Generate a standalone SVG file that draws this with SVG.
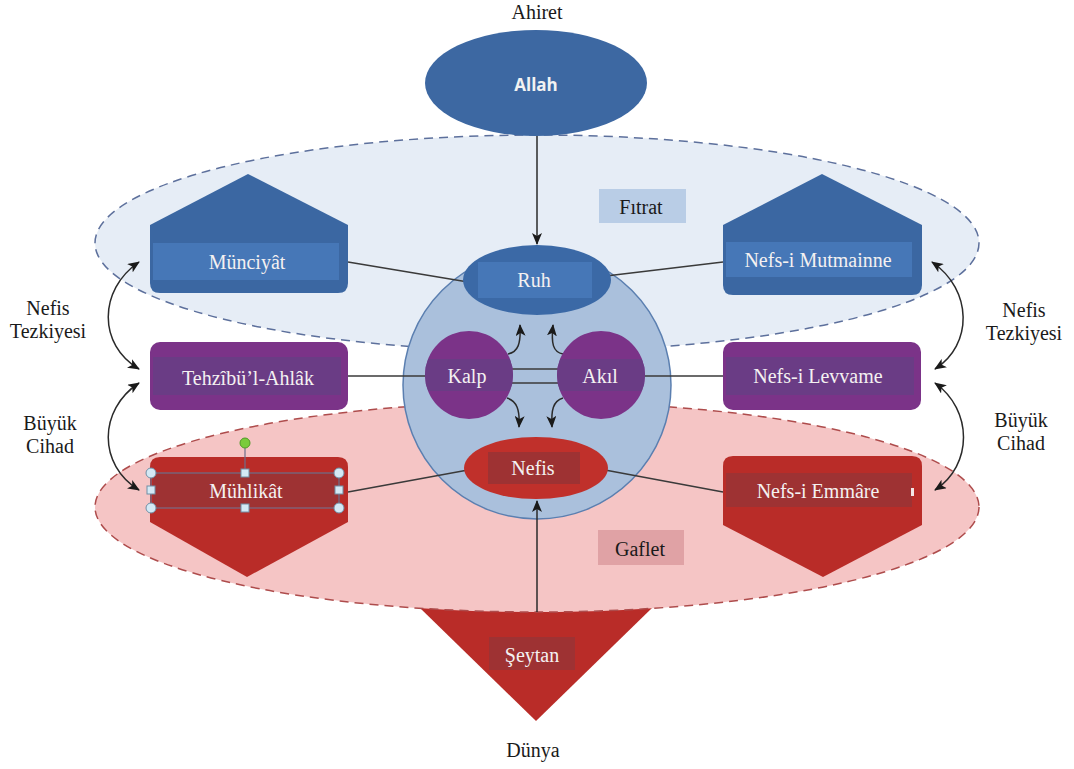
<svg xmlns="http://www.w3.org/2000/svg" width="1074" height="769" viewBox="0 0 1074 769">
<style>
.t{font-family:'Liberation Serif','Times New Roman',serif;font-size:20px;text-anchor:middle;dominant-baseline:central}
.w{fill:#f4f1f1}
.k{fill:#1a1a1a}
.ln{stroke:#3a3a3a;stroke-width:1.5;fill:none}
.ar{stroke:#2a2a2a;stroke-width:1.5;fill:none;marker-end:url(#ah)}
.dar{stroke:#2a2a2a;stroke-width:1.5;fill:none;marker-start:url(#ah);marker-end:url(#ah)}
.blue{fill:#3b67a2}
.blueband{fill:#4677b7}
.purple{fill:#7b3388}
.purpleband{fill:#6a3c85}
.red{fill:#b92c28}
.redband{fill:#9e3233}
.hc{fill:#d4e9f5;stroke:#6f8fa5;stroke-width:1}
</style>
<defs>
<marker id="ah" viewBox="0 0 12 10" refX="11" refY="5" markerWidth="12" markerHeight="10" markerUnits="userSpaceOnUse" orient="auto-start-reverse">
<path d="M0,0 L12,5 L0,10 L3,5 z" fill="#1a1a1a"/>
</marker>
<clipPath id="ck"><circle cx="469" cy="375" r="44"/></clipPath>
<clipPath id="ca"><circle cx="601" cy="375" r="44"/></clipPath>
</defs>
<rect width="1074" height="769" fill="#ffffff"/>

<g id="seytan">
<polygon points="420,608 652,608 536,721" class="red"/>
<rect x="489" y="637" width="86" height="33" class="redband"/>
<text x="532" y="655" class="t w">Şeytan</text>
</g>

<g id="fitrat-zone">
<ellipse cx="537" cy="243" rx="442" ry="108" fill="#e6edf6" stroke="#5d709c" stroke-width="1.5" stroke-dasharray="9,6"/>
<rect x="599" y="189" width="87" height="34" fill="#b9cde6"/>
<text x="641" y="207" class="t k">Fıtrat</text>
</g>

<g id="gaflet-zone">
<ellipse cx="537" cy="507" rx="442" ry="105" fill="#f5c5c5" stroke="#ae4c4c" stroke-width="1.5" stroke-dasharray="9,6"/>
<rect x="598" y="530" width="86" height="35" fill="#e0a2a5"/>
<text x="640" y="549" class="t k">Gaflet</text>
</g>

<g id="allah">
<ellipse cx="536" cy="83" rx="111" ry="53" fill="#3d68a2"/>
<text x="536" y="84" font-family="'Open Sans','Liberation Sans',sans-serif" font-weight="bold" font-size="17" fill="#f2f2f2" text-anchor="middle" dominant-baseline="central">Allah</text>
</g>
<text x="537" y="12" class="t k">Ahiret</text>
<text x="533" y="750" class="t k">Dünya</text>

<g id="center-circle">
<circle cx="537" cy="385" r="134" fill="#aac0dc" stroke="#5b7fb0" stroke-width="1.5"/>
</g>

<g id="connectors">
<line x1="537" y1="136" x2="537" y2="244" class="ar"/>
<line x1="537" y1="612" x2="537" y2="501" class="ar"/>
<line x1="348" y1="262" x2="468" y2="282" class="ln"/>
<line x1="606" y1="276" x2="723" y2="262" class="ln"/>
<line x1="348" y1="376" x2="426" y2="376" class="ln"/>
<line x1="512" y1="369" x2="558" y2="369" class="ln"/>
<line x1="512" y1="383" x2="558" y2="383" class="ln"/>
<line x1="644" y1="376" x2="723" y2="376" class="ln"/>
<line x1="348" y1="492" x2="468" y2="470" class="ln"/>
<line x1="605" y1="470" x2="723" y2="492" class="ln"/>
<path d="M508,354 C518,352 521,344 520,325" class="ar"/>
<path d="M563,354 C553,352 551,344 553,325" class="ar"/>
<path d="M507,398 C517,401 520,410 519,427" class="ar"/>
<path d="M563,398 C553,401 551,410 552,427" class="ar"/>
<path d="M139,262 C98,290 98,345 139,369" class="dar"/>
<path d="M139,383 C98,410 98,465 139,490" class="dar"/>
<path d="M932,262 C973,290 973,345 935,369" class="dar"/>
<path d="M935,383 C973,410 973,465 935,490" class="dar"/>
</g>

<g id="ruh">
<ellipse cx="537" cy="280" rx="74" ry="35" fill="#3b69a6"/>
<rect x="478" y="262" width="114" height="36" fill="#4677b7"/>
<text x="534" y="280" class="t w">Ruh</text>
</g>

<g id="kalp">
<circle cx="469" cy="375" r="44" class="purple"/>
<rect x="420" y="359" width="100" height="32" class="purpleband" clip-path="url(#ck)"/>
<text x="467" y="376" class="t w">Kalp</text>
</g>

<g id="akil">
<circle cx="601" cy="375" r="44" class="purple"/>
<rect x="552" y="359" width="100" height="32" class="purpleband" clip-path="url(#ca)"/>
<text x="600" y="376" class="t w">Akıl</text>
</g>

<g id="nefis">
<ellipse cx="536" cy="468" rx="72" ry="31" fill="#c0302b"/>
<rect x="488" y="452" width="92" height="32" class="redband"/>
<text x="533" y="468" class="t w">Nefis</text>
</g>

<g id="munciyat">
<path d="M248,174 L348,225 L348,283 Q348,293 338,293 L160,293 Q150,293 150,283 L150,225 Z" class="blue"/>
<rect x="153" y="243" width="186" height="37" class="blueband"/>
<text x="247" y="262" class="t w">Münciyât</text>
</g>

<g id="nefs-i-mutmainne">
<path d="M822,174 L922,225 L922,285 Q922,295 912,295 L733,295 Q723,295 723,285 L723,225 Z" class="blue"/>
<rect x="726" y="242" width="186" height="35" class="blueband"/>
<text x="818" y="260" class="t w">Nefs-i Mutmainne</text>
</g>

<g id="tehzibul-ahlak">
<rect x="150" y="342" width="198" height="68" rx="10" class="purple"/>
<rect x="153" y="357" width="188" height="38" class="purpleband"/>
<text x="248" y="378" class="t w">Tehzîbü’l-Ahlâk</text>
</g>

<g id="nefs-i-levvame">
<rect x="723" y="342" width="198" height="68" rx="10" class="purple"/>
<rect x="726" y="357" width="188" height="38" class="purpleband"/>
<text x="818" y="376" class="t w">Nefs-i Levvame</text>
</g>

<g id="muhlikat">
<path d="M160,457 L338,457 Q348,457 348,467 L348,522 L247,577 L150,522 L150,467 Q150,457 160,457 Z" class="red"/>
<rect x="153" y="473" width="187" height="34" class="redband"/>
<text x="246" y="491" class="t w">Mühlikât</text>
<rect x="151" y="473" width="188" height="35" fill="none" stroke="#6d6f8a" stroke-width="1.2"/>
<line x1="245" y1="448" x2="245" y2="473" stroke="#6d6f8a" stroke-width="1.2"/>
<circle cx="245" cy="443" r="5" fill="#7acb3c" stroke="#4f9a26" stroke-width="1"/>
<circle cx="151" cy="473" r="5" class="hc"/>
<circle cx="339" cy="473" r="5" class="hc"/>
<circle cx="151" cy="508" r="5" class="hc"/>
<circle cx="339" cy="508" r="5" class="hc"/>
<rect x="241" y="469" width="8" height="8" class="hc"/>
<rect x="241" y="504" width="8" height="8" class="hc"/>
<rect x="147" y="486" width="8" height="8" class="hc"/>
<rect x="335" y="486" width="8" height="8" class="hc"/>
</g>

<g id="nefs-i-emmare">
<path d="M733,456 L912,456 Q922,456 922,466 L922,525 L823,577 L723,525 L723,466 Q723,456 733,456 Z" class="red"/>
<rect x="726" y="473" width="186" height="34" class="redband"/>
<text x="818" y="491" class="t w">Nefs-i Emmâre</text>
<rect x="911" y="488" width="3" height="8" fill="#f4e6e6"/>
</g>

<g id="labels">
<text x="48" y="308" class="t k">Nefis</text>
<text x="48" y="331" class="t k">Tezkiyesi</text>
<text x="50" y="423" class="t k">Büyük</text>
<text x="50" y="446" class="t k">Cihad</text>
<text x="1024" y="310" class="t k">Nefis</text>
<text x="1024" y="333" class="t k">Tezkiyesi</text>
<text x="1021" y="420" class="t k">Büyük</text>
<text x="1021" y="443" class="t k">Cihad</text>
</g>
</svg>
